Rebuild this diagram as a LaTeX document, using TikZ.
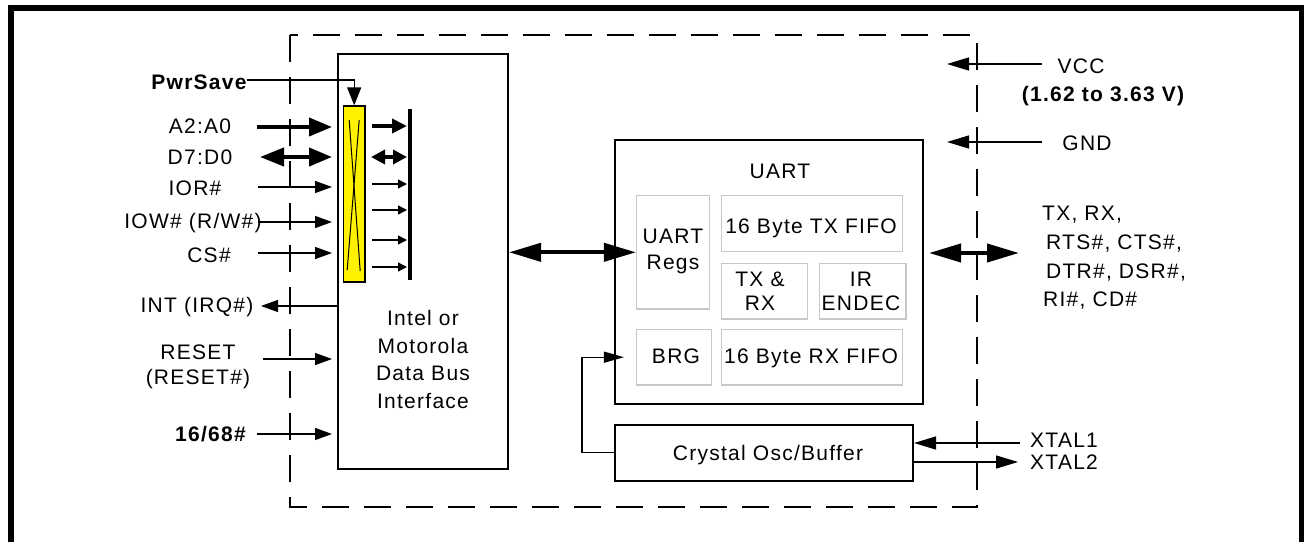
\documentclass[tikz,border=0pt]{standalone}
\usepackage{fontspec}
\setmainfont[LetterSpace=6]{Liberation Sans}
\usetikzlibrary{arrows.meta}
\tikzset{
  sig/.style={line width=1.3pt},
  fat/.style={line width=4pt},
  box/.style={draw, line width=2pt, inner sep=0pt},
  cell/.style={draw=black!22, line width=1.5pt, inner sep=0pt},
  pin/.style={inner sep=0pt, anchor=base},
  txt/.style={inner sep=0pt, align=center},
  sA/.style={-{Triangle[length=17pt,width=12pt]}},
  mA/.style={-{Triangle[length=22pt,width=13pt]}},
  bA/.style={-{Triangle[length=23pt,width=18pt]}},
  bbA/.style={{Triangle[length=24pt,width=18pt]}-{Triangle[length=23pt,width=18pt]}},
  iA/.style={-{Triangle[length=15pt,width=14pt]}},
  iiA/.style={{Triangle[length=14pt,width=14pt]}-{Triangle[length=14pt,width=14pt]}},
  tA/.style={-{Triangle[length=9pt,width=9pt]}},
  hA/.style={{Triangle[length=32pt,width=18pt]}-{Triangle[length=32pt,width=18pt]}},
}
\begin{document}
\begin{tikzpicture}[x=1pt, y=-1pt, font=\fontsize{21}{26}\selectfont]
  \useasboundingbox (0,0) rectangle (1304,541);
  \clip (0,0) rectangle (1304,541);
  % page frame and chip outline
  \draw[line width=6pt] (11,560) -- (11,8) -- (1302,8) -- (1302,560);
  \draw[sig, dash pattern=on 27pt off 15pt] (290,35) rectangle (977,507);

  % bus interface
  \node[box, minimum width=170pt, minimum height=415pt] (bus) at (423,261.5) {};
  \node[txt, font=\fontsize{21}{27.7}\selectfont] (bustxt) at (423,359.5) {Intel or\\Motorola\\Data Bus\\Interface};
  \node[draw, fill=yellow, line width=1.5pt, inner sep=0pt, minimum width=21.7pt, minimum height=175.7pt] (latch) at (354.2,194) {};
  \draw[line width=1pt] ([shift={(-7,76)}]latch.center) -- ([shift={(5,-74)}]latch.center);
  \draw[line width=1pt] ([shift={(-5,-74)}]latch.center) -- ([shift={(6,77)}]latch.center);
  \coordinate (bar1) at (410,109);
  \coordinate (bar2) at (410,280);
  \draw[fat] (bar1) -- (bar2);
  \draw[fat, iA] (372,126) -- (407,126);
  \draw[fat, iiA] (371,157) -- (407,157);
  \foreach \y in {184,210,240,267}
    \draw[sig, tA] (372,\y) -- (407,\y);

  % host side pins
  \node[pin, font=\fontsize{21}{26}\bfseries] (pwr) at (199,89) {\makebox[0pt]{PwrSave}};
  \coordinate (pwrend) at (247,80);
  \draw[sig, -{Triangle[length=18pt,width=14pt]}] (pwrend) -| (latch.north);
  \node[pin] (addr) at (200,133) {\makebox[0pt]{A2:A0}};
  \draw[fat, bA] (257,127) -- (332,127);
  \node[pin] (data) at (200,164) {\makebox[0pt]{D7:D0}};
  \draw[fat, bbA] (260,157) -- (332,157);
  \foreach \x/\y/\b/\t in {195/187/195/IOR\#, 193/222/228/{IOW\# (R/W\#)}, 209/253/262/CS\#}{
    \node[pin] (in\y) at (\x,\b) {\makebox[0pt]{\t}};
    \draw[sig, sA] (258,\y) -- (332,\y);
  }
  \node[pin] (int) at (197,312) {\makebox[0pt]{INT (IRQ\#)}};
  \draw[sig, sA] (bus.west |- 0,306) -- (261,306);
  \node[txt, font=\fontsize{21}{25}\selectfont] (rst) at (198,366.5) {RESET\\(RESET\#)};
  \draw[sig, sA] (263,359) -- (332,359);
  \node[pin, font=\fontsize{21}{26}\bfseries] (mode) at (210.5,441) {\makebox[0pt]{16/68\#}};
  \draw[sig, sA] (257,434) -- (332,434);

  % UART block
  \node[box, minimum width=308pt, minimum height=264pt] (uart) at (769,272) {};
  \node[pin] (uartlbl) at (780,178.3) {\makebox[0pt]{UART}};
  \node[cell, minimum width=72.6pt, minimum height=113.3pt] (regs) at (673,252.3) {};
  \node[txt] at (673,251.3) {UART\\Regs};
  \node[cell, minimum width=181pt, minimum height=56pt] (txf) at (812.2,223.7) {};
  \node[pin] at (811,233.3) {\makebox[0pt]{16 Byte TX FIFO}};
  \node[cell, minimum width=86pt, minimum height=55.7pt] (trx) at (764.7,291.2) {};
  \node[txt, font=\fontsize{21}{24}\selectfont] at (760,290.9) {TX \&\\RX};
  \node[cell, minimum width=86.7pt, minimum height=55.7pt] (ir) at (862.7,291.2) {};
  \node[txt, font=\fontsize{21}{24}\selectfont] at (861,290.9) {IR\\ENDEC};
  \node[cell, minimum width=75pt, minimum height=55.7pt] (brg) at (674.2,357.2) {};
  \node[pin] at (676,363.3) {\makebox[0pt]{BRG}};
  \node[cell, minimum width=181pt, minimum height=55.7pt] (rxf) at (812.2,357.2) {};
  \node[pin] at (811,363.3) {\makebox[0pt]{16 Byte RX FIFO}};
  \draw[fat, hA] (bus.east |- regs.west) -- (regs.west);

  % crystal
  \node[box, minimum width=298pt, minimum height=56pt] (osc) at (764,452.5) {};
  \node[pin] at (768,460) {\makebox[0pt]{Crystal Osc/Buffer}};
  \draw[sig, -{Triangle[length=20pt,width=11pt]}, shorten >=12pt] (osc.west) -- ++(-32,0) |- (brg.west);
  \coordinate (xt1) at (1020,443);
  \coordinate (xt2) at (1018,462);
  \draw[sig, mA] (xt1) -- (xt1 -| osc.east);
  \draw[sig, mA] (xt2 -| osc.east) -- (xt2);
  \node[pin, anchor=base west] at (1030,447) {XTAL1};
  \node[pin, anchor=base west] at (1030,469) {XTAL2};

  % supply and serial side
  \coordinate (vcc) at (1042,64);
  \coordinate (vccin) at (947,64);
  \coordinate (gnd) at (1042,142);
  \coordinate (gndin) at (947,142);
  \draw[sig, mA] (vcc) -- (vccin);
  \draw[sig, mA] (gnd) -- (gndin);
  \node[pin] at (1081,73.3) {\makebox[0pt]{VCC}};
  \node[pin, font=\fontsize{21}{26}\bfseries] at (1103,101.7) {\makebox[0pt]{(1.62 to 3.63 V)}};
  \node[pin] at (1087,150) {\makebox[0pt]{GND}};
  \coordinate (ser) at (1019,253);
  \draw[fat, hA, shorten <=5pt] (ser -| uart.east) -- (ser);
  \node[pin, anchor=base west] at (1042,220) {TX, RX,};
  \node[pin, anchor=base west] at (1046,249) {RTS\#, CTS\#,};
  \node[pin, anchor=base west] at (1046,278) {DTR\#, DSR\#,};
  \node[pin, anchor=base west] at (1043,306) {RI\#, CD\#};
\end{tikzpicture}
\end{document}
